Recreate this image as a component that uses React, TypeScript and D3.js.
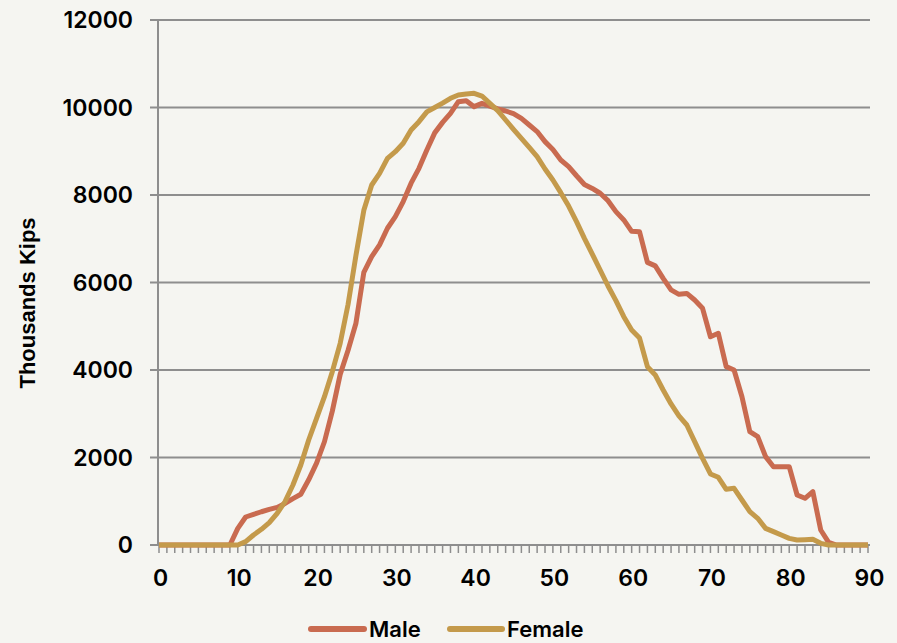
import React from "react";
import * as d3 from "d3";

const ages: number[] = d3.range(0, 91);

const male: number[] = [
  0, 0, 0, 0, 0, 0, 0, 0, 0, 0,
  380, 640, 700, 760, 815, 860, 950, 1060, 1160, 1490,
  1870, 2360, 3060, 3900, 4450, 5070, 6230, 6590, 6860, 7240,
  7505, 7850, 8270, 8610, 9030, 9420, 9660, 9867, 10133, 10156,
  10019, 10095, 10034, 9970, 9920, 9860, 9750, 9600, 9450, 9220,
  9040, 8800, 8650, 8440, 8240, 8150, 8040, 7870, 7620, 7430,
  7170, 7160, 6460, 6380, 6095, 5830, 5730, 5750, 5600, 5410,
  4760, 4840, 4076, 4000, 3390, 2590, 2476, 2019, 1790, 1790,
  1790, 1143, 1067, 1219, 343, 60, 0, 0, 0, 0,
  0,
];

const female: number[] = [
  0, 0, 0, 0, 0, 0, 0, 0, 0, 0,
  0, 76, 229, 358, 510, 724, 990, 1371, 1829, 2400,
  2895, 3390, 3962, 4610, 5500, 6620, 7650, 8229, 8495, 8838,
  8990, 9181, 9486, 9676, 9900, 10000, 10100, 10210, 10286, 10309,
  10324, 10262, 10095, 9928, 9714, 9501, 9295, 9089, 8876, 8594,
  8343, 8053, 7748, 7390, 7010, 6651, 6286, 5920, 5585, 5219,
  4914, 4730, 4076, 3886, 3543, 3223, 2950, 2743, 2362, 1981,
  1623, 1547, 1272, 1295, 1029, 762, 610, 381, 305, 229,
  152, 114, 122, 130, 38, 0, 0, 0, 0, 0,
  0,
];

const yTicks: number[] = [0, 2000, 4000, 6000, 8000, 10000, 12000];
const xTickLabels: number[] = [0, 10, 20, 30, 40, 50, 60, 70, 80, 90];
const seriesNames: string[] = ["Male", "Female"];
const seriesColors: string[] = ["#C96B50", "#C49A4B"];

export default function App() {
  const W = 897;
  const H = 643;
  const x = d3.scaleLinear().domain([0, 90]).range([159, 868]);
  const y = d3.scaleLinear().domain([0, 12000]).range([545, 20]);
  const line = d3
    .line<number>()
    .x((_, i) => x(ages[i]))
    .y((d) => y(d));
  const grid = "#8E8E8E";
  const tickFont = "Inter, 'Liberation Sans', sans-serif";
  const series = [male, female];

  return (
    <svg
      width={W}
      height={H}
      style={{ position: "absolute", left: 0, top: 0, background: "#F5F5F1" }}
    >
      <rect x={0} y={0} width={W} height={H} fill="#F5F5F1" />
      {yTicks.map((t) => (
        <g key={t}>
          <line x1={150} x2={870} y1={y(t)} y2={y(t)} stroke={grid} strokeWidth={2} />
          <text
            x={133}
            y={y(t)}
            textAnchor="end"
            dominantBaseline="central"
            fontFamily={tickFont}
            fontWeight={600}
            fontSize={23}
            fill="#000"
          >
            {t}
          </text>
        </g>
      ))}
      <line x1={158} x2={158} y1={20} y2={546} stroke={grid} strokeWidth={2} />
      {ages.map((a) => (
        <line key={a} x1={x(a)} x2={x(a)} y1={545} y2={553} stroke={grid} strokeWidth={1.5} />
      ))}
      {xTickLabels.map((t) => (
        <text
          key={t}
          x={x(t) + 1.5}
          y={586}
          textAnchor="middle"
          fontFamily={tickFont}
          fontWeight={600}
          fontSize={23}
          fill="#000"
        >
          {t}
        </text>
      ))}
      <text
        transform="translate(35,303) rotate(-90)"
        textAnchor="middle"
        fontFamily="'Liberation Sans', Arial, sans-serif"
        fontWeight={700}
        fontSize={22}
        fill="#000"
      >
        Thousands Kips
      </text>
      {series.map((s, k) => (
        <path
          key={k}
          d={line(s) || ""}
          fill="none"
          stroke={seriesColors[k]}
          strokeWidth={5}
          strokeLinejoin="round"
        />
      ))}
      {/* legend */}
      <line x1={311} x2={364} y1={629} y2={629} stroke={seriesColors[0]} strokeWidth={6} strokeLinecap="round" />
      <text x={369} y={637} fontFamily={tickFont} fontWeight={600} fontSize={22} fill="#000">
        {seriesNames[0]}
      </text>
      <line x1={450} x2={502} y1={629} y2={629} stroke={seriesColors[1]} strokeWidth={6} strokeLinecap="round" />
      <text x={507} y={637} fontFamily={tickFont} fontWeight={600} fontSize={22} fill="#000">
        {seriesNames[1]}
      </text>
    </svg>
  );
}
